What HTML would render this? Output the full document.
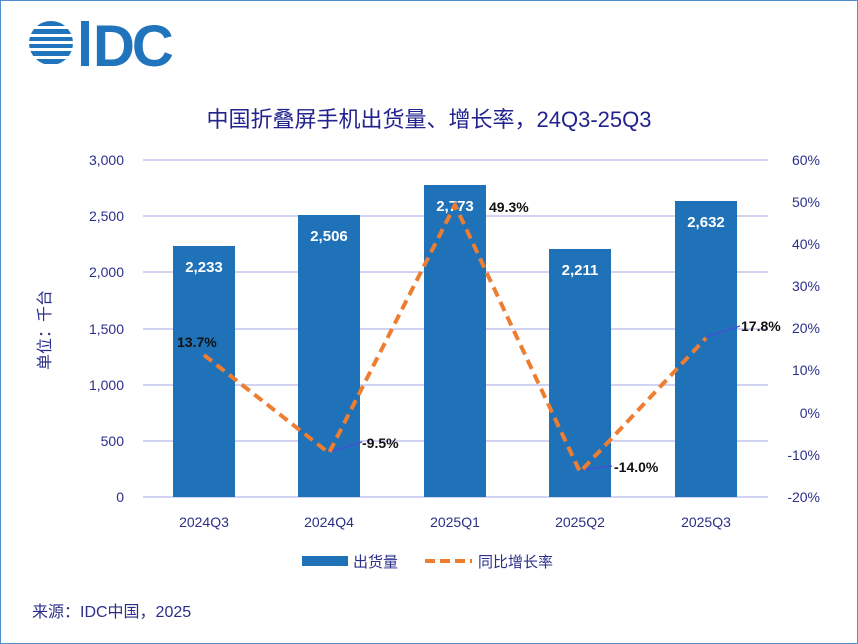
<!DOCTYPE html>
<html><head><meta charset="utf-8"><style>
body{margin:0;background:#fff;}
svg{display:block;font-family:"Liberation Sans","Noto Sans CJK SC",sans-serif;}
</style></head><body>
<svg width="858" height="644" viewBox="0 0 858 644">
<rect x="0.5" y="0.5" width="857" height="643" fill="#fff" stroke="#4f8fd0" stroke-width="1"/>
<!-- logo -->
<g fill="#1f74bc">
<clipPath id="c"><circle cx="51" cy="43" r="22"/></clipPath>
<g clip-path="url(#c)">
<rect x="28" y="21" width="46" height="5"/><rect x="28" y="29" width="46" height="5"/><rect x="28" y="37" width="46" height="4"/><rect x="28" y="44" width="46" height="4"/><rect x="28" y="51" width="46" height="5"/><rect x="28" y="59" width="46" height="5"/>
</g>
<rect x="81" y="21" width="8" height="45"/>
</g>
<text x="93" y="66" font-size="58" fill="#1f74bc" font-weight="bold" letter-spacing="-3">DC</text>
<text x="429" y="127" text-anchor="middle" font-size="22" fill="#22238f">中国折叠屏手机出货量、增长率，24Q3-25Q3</text>
<!-- grid -->
<g stroke="#b8b8ea" stroke-width="1.2">
<line x1="143" y1="160" x2="768" y2="160"/><line x1="143" y1="216" x2="768" y2="216"/><line x1="143" y1="272" x2="768" y2="272"/><line x1="143" y1="329" x2="768" y2="329"/><line x1="143" y1="385" x2="768" y2="385"/><line x1="143" y1="441" x2="768" y2="441"/><line x1="143" y1="497" x2="768" y2="497"/>
</g>
<g font-size="14" fill="#2b2f8a" text-anchor="end">
<text x="124" y="165">3,000</text><text x="124" y="221">2,500</text><text x="124" y="277">2,000</text><text x="124" y="334">1,500</text><text x="124" y="390">1,000</text><text x="124" y="446">500</text><text x="124" y="502">0</text>
<text x="820" y="165">60%</text><text x="820" y="207">50%</text><text x="820" y="249">40%</text><text x="820" y="291">30%</text><text x="820" y="333">20%</text><text x="820" y="375">10%</text><text x="820" y="418">0%</text><text x="820" y="460">-10%</text><text x="820" y="502">-20%</text>
</g>
<text transform="translate(50,330) rotate(-90)" text-anchor="middle" font-size="16" fill="#2b2f8a">单位：千台</text>
<!-- bars -->
<g fill="#1f72b8">
<rect x="173" y="246" width="62" height="251"/><rect x="298" y="215" width="62" height="282"/><rect x="424" y="185" width="62" height="312"/><rect x="549" y="249" width="62" height="248"/><rect x="675" y="201" width="62" height="296"/>
</g>
<g font-size="15" fill="#fff" font-weight="bold" text-anchor="middle">
<text x="204" y="272">2,233</text><text x="329" y="241">2,506</text><text x="455" y="211">2,773</text><text x="580" y="275">2,211</text><text x="706" y="227">2,632</text>
</g>
<g font-size="14" fill="#2b2f8a" text-anchor="middle">
<text x="204" y="527">2024Q3</text><text x="329" y="527">2024Q4</text><text x="455" y="527">2025Q1</text><text x="580" y="527">2025Q2</text><text x="706" y="527">2025Q3</text>
</g>
<!-- leader lines -->
<g stroke="#4a4ad8" stroke-width="1.2" fill="none">
<line x1="330" y1="452" x2="362" y2="442"/><line x1="581" y1="470" x2="612" y2="466"/><line x1="706" y1="337" x2="740" y2="326"/>
</g>
<polyline points="204,355 329,453 455,205 580,472 706,338" fill="none" stroke="#ed7d31" stroke-width="4" stroke-dasharray="10,6"/>
<g font-size="14" font-weight="bold" fill="#111">
<text x="177" y="347">13.7%</text><text x="362" y="448">-9.5%</text><text x="489" y="212">49.3%</text><text x="614" y="472">-14.0%</text><text x="741" y="331">17.8%</text>
</g>
<!-- legend -->
<rect x="302" y="556" width="46" height="10" fill="#1f72b8"/>
<text x="353" y="567" font-size="15" fill="#2b2f8a">出货量</text>
<line x1="425" y1="561" x2="472" y2="561" stroke="#ed7d31" stroke-width="4" stroke-dasharray="10,5"/>
<text x="478" y="567" font-size="15" fill="#2b2f8a">同比增长率</text>
<text x="32" y="617" font-size="16" fill="#2b2f8a">来源：IDC中国，2025</text>
</svg>
</body></html>
